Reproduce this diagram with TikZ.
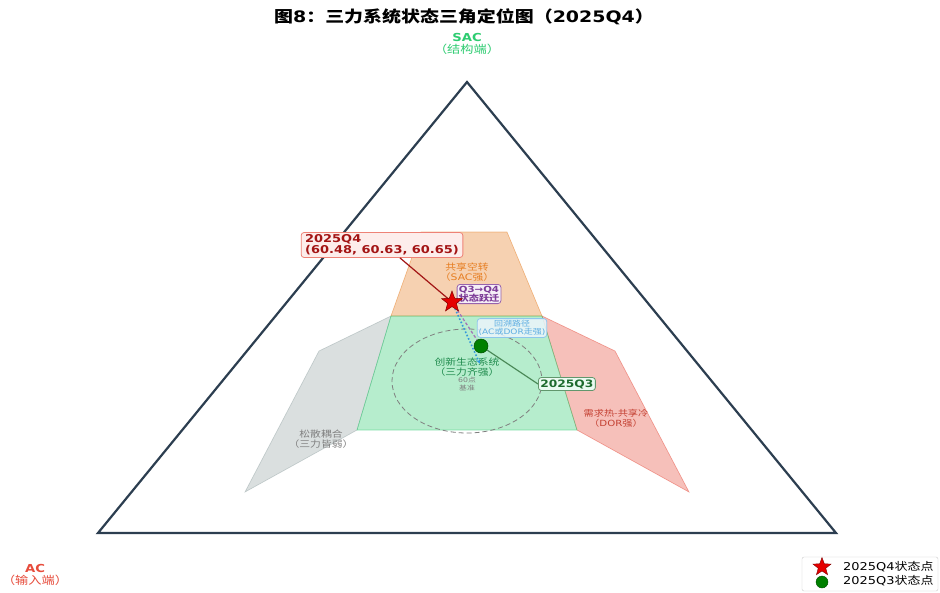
\documentclass[tikz,border=0pt]{standalone}
\usepackage{fontspec}
\setmainfont[FakeStretch=1.2]{DejaVu Sans}
\newfontfamily\cjk[FakeStretch=1.2]{Noto Sans CJK SC}
\newcommand\zh[1]{{\cjk #1}}
\usetikzlibrary{shapes.geometric,arrows.meta}
\definecolor{navy}{HTML}{2C3E50}
\definecolor{cgreen}{HTML}{2ECC71}
\definecolor{cred}{HTML}{E74C3C}
\definecolor{corange}{HTML}{E67E22}
\definecolor{cgray}{HTML}{95A5A6}
\definecolor{dkred}{HTML}{A31515}
\definecolor{cpurple}{HTML}{7D3C98}
\definecolor{cblue}{HTML}{3498DB}
\definecolor{lblue}{HTML}{5DADE2}
\definecolor{dkgreen}{HTML}{1E6B2E}
\definecolor{ptgreen}{HTML}{008000}
\definecolor{ecogreen}{HTML}{27AE60}
\tikzset{
  region/.style={fill=#1, fill opacity=0.35, draw=#1, draw opacity=0.5, line width=0.6pt},
  tag/.style={rounded corners=3pt, inner sep=2pt, line width=0.8pt, align=center},
  zonelabel/.style={align=center, font=\fontsize{8.5}{10}\selectfont, inner sep=0pt},
}
\begin{document}
\begin{tikzpicture}[x=1pt,y=-1pt]
\useasboundingbox (0,0) rectangle (940,592);
\fill[white] (0,0) rectangle (940,592);

% title
\node[font=\fontsize{15.8}{18}\selectfont\bfseries] (title) at (464,17) {\zh{图}8\zh{：三力系统状态三角定位图（}2025Q4\zh{）}};

% corner labels
\node[align=center, text=cgreen, font=\fontsize{11}{12}\selectfont, inner sep=0pt] (sac) at (467,44) {\textbf{SAC}\\\zh{（结构端）}};
\node[align=center, text=cred, font=\fontsize{11}{12}\selectfont, inner sep=0pt] (ac) at (35,575) {\textbf{AC}\\\zh{（输入端）}};

% regions
\path[region=cgray] (391,316) -- (319,351) -- (245,492) -- (357,430) -- cycle;
\path[region=cred] (542,316) -- (615,351) -- (689,492) -- (577,430) -- cycle;
\path[region=corange] (421,232) -- (507,232) -- (542,316) -- (391,316) -- cycle;
\path[region=cgreen] (391,316) -- (542,316) -- (577,430) -- (357,430) -- cycle;

% baseline ellipse
\draw[gray, dashed, line width=0.8pt, dash pattern=on 5pt off 3pt] (467,381) ellipse [x radius=75, y radius=52];

% triangle
\draw[navy, line width=2.2pt, line join=miter] (467,82) -- (98,533) -- (836,533) -- cycle;

% zone labels
\node[zonelabel, text=corange, font=\fontsize{9}{10.5}\selectfont] (zsac) at (467,272) {\zh{共享空转}\\\zh{（}SAC\zh{强）}};
\node[zonelabel, text=ecogreen!80!black, font=\fontsize{9}{10.5}\selectfont] (zeco) at (467,367) {\zh{创新生态系统}\\\zh{（三力齐强）}};
\node[zonelabel, text=gray, font=\fontsize{6.5}{7.5}\selectfont] (zbase) at (467,384) {60\zh{点}\\\zh{基准}};
\node[zonelabel, text=cred!85!black] (zdor) at (616,418) {\zh{需求热-共享冷}\\\zh{（}DOR\zh{强）}};
\node[zonelabel, text=gray, font=\fontsize{9}{10}\selectfont] (zloose) at (321,439) {\zh{松散耦合}\\\zh{（三力皆弱）}};

% point positions
\coordinate (q4c) at (452,302);
\coordinate (q3c) at (481,346);
\coordinate (backend) at (480,364);

% labels
\node[tag, draw=cred!70, fill=cred!10, text=dkred, font=\fontsize{10.8}{11.5}\selectfont\bfseries, align=left, inner xsep=4pt, inner ysep=2pt] (q4box) at (382,245) {2025Q4\\(60.48, 60.63, 60.65)};
\draw[dkred, line width=1.2pt] (q4box.south) ++(18,0) coordinate (q4start) -- (q4c);

% paths
\draw[cblue, line width=1.6pt, dotted, -{Stealth[length=5pt]}] (q4c) -- (backend);
\draw[cpurple!70, line width=1.3pt, dashed, dash pattern=on 3pt off 2pt] (q3c) -- (q4c);
\draw[dkgreen!80, line width=1.2pt] (q3c) -- (538,384) coordinate (q3tip);

\node[tag, draw=cpurple!80, fill=cpurple!8, text=cpurple, font=\fontsize{8.5}{9}\selectfont\bfseries, inner sep=1.5pt] (jump) at (479,294) {Q3→Q4\\\zh{状态跃迁}};
\node[tag, draw=lblue!70, fill=lblue!12, fill opacity=0.85, text opacity=1, text=lblue, font=\fontsize{7.5}{8.5}\selectfont, inner sep=1.5pt] (back) at (512,328) {\zh{回溯路径}\\(AC\zh{或}DOR\zh{走强})};
\node[tag, draw=dkgreen!70, fill=cgreen!10, text=dkgreen, font=\fontsize{10.2}{11}\selectfont\bfseries, anchor=west, inner sep=2pt] (q3box) at (q3tip) {2025Q3};

% markers
\node[star, star points=5, star point ratio=2.4, fill=red!90!black, draw=red!50!black, line width=0.5pt, minimum size=22pt, inner sep=0pt] (q4) at (q4c) {};
\node[circle, fill=ptgreen, draw=ptgreen!60!black, line width=0.5pt, minimum size=14pt, inner sep=0pt] (q3) at (q3c) {};

% legend
\node[draw=black!20, fill=white, rounded corners=2pt, minimum width=136pt, minimum height=34pt, inner sep=0pt] (legend) at (870,574) {};
\node[star, star points=5, star point ratio=2.4, fill=red!90!black, draw=red!50!black, minimum size=19pt, inner sep=0pt] (lstar) at (822,567) {};
\node[circle, fill=ptgreen, draw=ptgreen!60!black, minimum size=12pt, inner sep=0pt] (ldot) at (822,582) {};
\node[anchor=west, font=\fontsize{10.8}{11}\selectfont, inner sep=0pt] (lq4) at (843,567) {2025Q4\zh{状态点}};
\node[anchor=west, font=\fontsize{10.8}{11}\selectfont, inner sep=0pt] (lq3) at (843,581) {2025Q3\zh{状态点}};
\end{tikzpicture}
\end{document}
